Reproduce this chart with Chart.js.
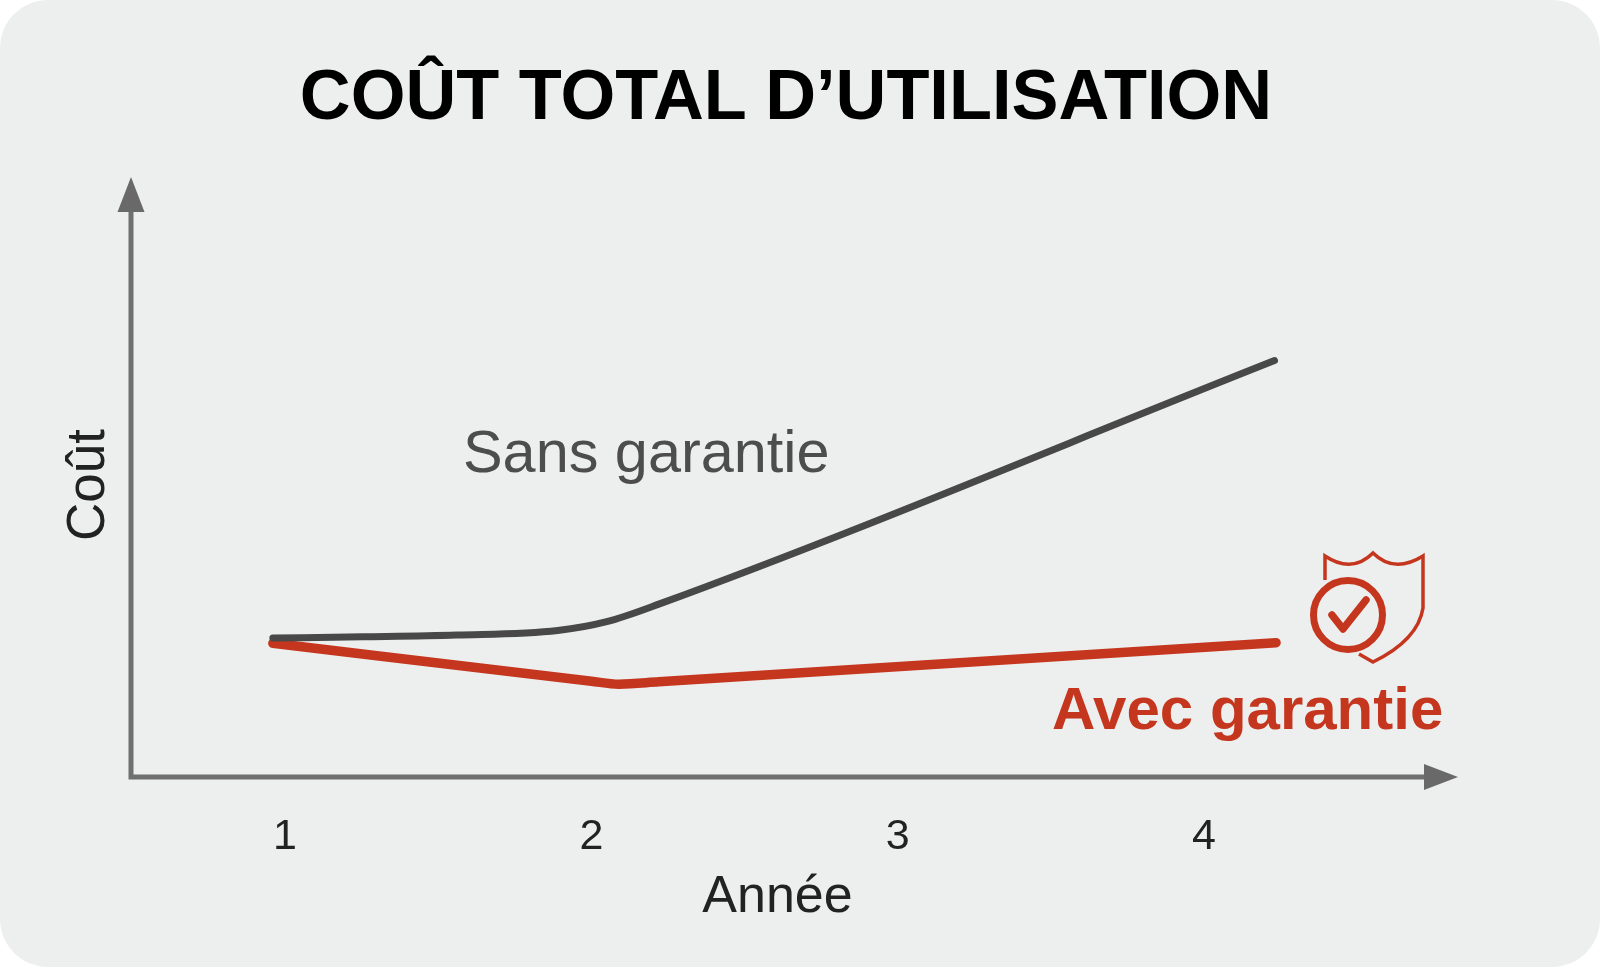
<!DOCTYPE html>
<html lang="fr">
<head>
<meta charset="utf-8">
<title>Coût total d'utilisation</title>
<script src="https://cdn.jsdelivr.net/npm/chart.js@4"></script>
<style>
  html, body { margin: 0; padding: 0; background: #fff; }
  #card { position: relative; width: 1600px; height: 967px; background: #edefee; border-radius: 48px; overflow: hidden; }
  #chart { position: absolute; left: 0; top: 0; }
  h1 { position: absolute; left: 0; width: 1572px; top: 53px; margin: 0; text-align: center; color: #000;
       font: bold 70.4px/84px "Liberation Sans", sans-serif; }
  #shield { position: absolute; left: 0; top: 0; }
</style>
</head>
<body>
<div id="card">
  <canvas id="chart" width="1600" height="967"></canvas>
  <h1>COÛT TOTAL D’UTILISATION</h1>
  <svg id="shield" width="1600" height="967" fill="none" stroke="#c5361f">
    <path stroke-width="3.5" d="M1325 580V556Q1352 574 1373 553Q1394 574 1423 556V608Q1418 640 1373 662L1359 654"/>
    <circle cx="1348" cy="615" r="34.5" stroke-width="7"/>
    <path stroke-width="7.5" stroke-linecap="round" stroke-linejoin="round" d="M1332 615L1343 629L1366 600"/>
  </svg>
</div>
<script>
const yearTicks = [1, 2, 3, 4];
const sansYears = [0.96, 1.255, 1.56, 1.89, 2.05, 2.22, 4.23];
const sansCost = [23.8, 24.0, 24.3, 25.1, 26.6, 29.6, 71.3];
const avecYears = [0.96, 2.0, 2.09, 2.22, 4.235];
const avecCost = [22.9, 16.4, 15.9, 16.3, 23.0];

const FONT = '"Liberation Sans", sans-serif';
const AXIS = "#6f6f6f";

function toPoints(xs, ys) {
  return xs.map((x, i) => ({ x, y: ys[i] }));
}

function arrow(ctx, tipX, tipY, baseX, baseY, half) {
  const horizontal = tipY === baseY;
  ctx.beginPath();
  ctx.moveTo(tipX, tipY);
  ctx.lineTo(baseX + (horizontal ? 0 : half), baseY + (horizontal ? half : 0));
  ctx.lineTo(baseX - (horizontal ? 0 : half), baseY - (horizontal ? half : 0));
  ctx.closePath();
  ctx.fill();
}

const axisArrows = {
  id: "axisArrows",
  beforeDatasetsDraw(chart) {
    const { ctx, chartArea: a } = chart;
    ctx.save();
    ctx.strokeStyle = AXIS;
    ctx.fillStyle = "#696969";
    ctx.lineWidth = 5;
    ctx.beginPath();
    ctx.moveTo(a.left, a.top + 19);
    ctx.lineTo(a.left, a.bottom + 2.5);
    ctx.moveTo(a.left, a.bottom);
    ctx.lineTo(a.right, a.bottom);
    ctx.stroke();
    arrow(ctx, a.left, a.top - 16, a.left, a.top + 19, 13.5);
    arrow(ctx, a.right + 34, a.bottom, a.right, a.bottom, 13);
    ctx.restore();
  }
};

const seriesLabels = {
  id: "seriesLabels",
  afterDatasetsDraw(chart) {
    const { ctx } = chart;
    ctx.save();
    ctx.textBaseline = "alphabetic";
    ctx.fillStyle = "#4d4d4d";
    ctx.font = "59.4px " + FONT;
    ctx.fillText("Sans garantie", 463, 472);
    ctx.fillStyle = "#c5361f";
    ctx.font = "bold 60px " + FONT;
    ctx.fillText("Avec garantie", 1052, 729);
    ctx.restore();
  }
};

new Chart(document.getElementById("chart"), {
  type: "line",
  data: {
    datasets: [
      {
        label: "Sans garantie",
        data: toPoints(sansYears, sansCost),
        borderColor: "#484848",
        borderWidth: 7,
        borderCapStyle: "round",
        cubicInterpolationMode: "monotone",
        pointRadius: 0
      },
      {
        label: "Avec garantie",
        data: toPoints(avecYears, avecCost),
        borderColor: "#c5361f",
        borderWidth: 9.5,
        borderCapStyle: "round",
        borderJoinStyle: "round",
        cubicInterpolationMode: "monotone",
        pointRadius: 0
      }
    ]
  },
  plugins: [axisArrows, seriesLabels],
  options: {
    responsive: false,
    animation: false,
    layout: { padding: { top: 193, right: 176 } },
    plugins: { legend: { display: false }, tooltip: { enabled: false } },
    scales: {
      x: {
        type: "linear",
        min: 0.497,
        max: 4.718,
        afterFit(scale) { scale.height = 190; },
        afterBuildTicks(scale) { scale.ticks = yearTicks.map(value => ({ value })); },
        grid: { display: false },
        border: { display: false },
        ticks: {
          color: "#222",
          padding: 26,
          autoSkip: false,
          maxRotation: 0,
          font: { family: FONT, size: 43 },
          callback: value => String(value)
        },
        title: {
          display: true,
          text: "Année",
          color: "#222",
          padding: { top: 0, bottom: 38 },
          font: { family: FONT, size: 52 }
        }
      },
      y: {
        min: 0,
        max: 100,
        afterFit(scale) { scale.width = 131; },
        grid: { display: false },
        border: { display: false },
        ticks: { display: false },
        title: {
          display: true,
          text: "Coût",
          color: "#222",
          padding: { top: 58, bottom: 0 },
          font: { family: FONT, size: 53 }
        }
      }
    }
  }
});
</script>
</body>
</html>
